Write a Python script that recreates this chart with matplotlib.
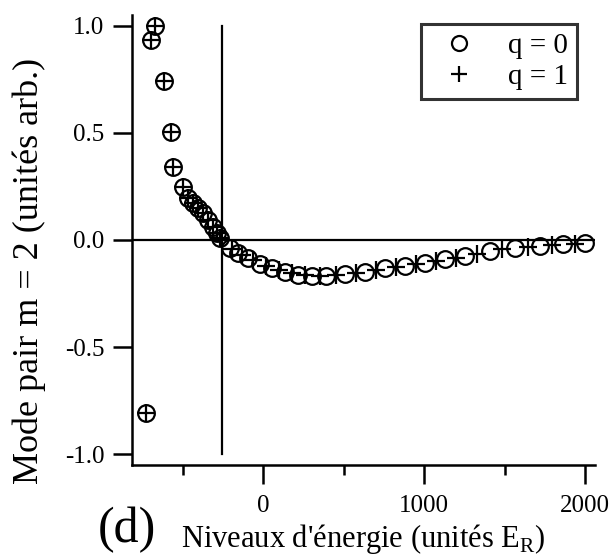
import matplotlib
matplotlib.use("Agg")
import matplotlib.pyplot as plt
from matplotlib.ticker import FixedLocator

plt.rcParams['font.family'] = ['Liberation Serif', 'DejaVu Serif']
plt.rcParams['mathtext.fontset'] = 'custom'
plt.rcParams['mathtext.rm'] = 'Liberation Serif'

# levels shared by both q values (left branch)
shared_x = [-727, -696, -671, -615, -575, -559, -497, -466, -435, -404, -373, -342, -311, -286, -267]
shared_y = [-0.81, 0.935, 1.0, 0.74, 0.505, 0.34, 0.245, 0.196, 0.173, 0.150, 0.126, 0.093, 0.061, 0.033, 0.009]

# q = 0 (circles), right branch
q0_x = [-205, -155, -93, -19, 56, 137, 217, 304, 391, 509, 634, 758, 882, 1006, 1130, 1255, 1410, 1565, 1720, 1863, 2000]
q0_y = [-0.037, -0.061, -0.084, -0.112, -0.131, -0.150, -0.164, -0.168, -0.168, -0.159, -0.150, -0.131,
        -0.121, -0.107, -0.089, -0.075, -0.051, -0.037, -0.028, -0.019, -0.014]

# q = 1 (crosses), right branch
q1_x = [-193, -130, -62, 19, 99, 180, 261, 354, 453, 578, 702, 826, 950, 1075, 1199, 1329, 1484, 1646, 1795, 1938]
q1_y = [-0.042, -0.070, -0.093, -0.121, -0.140, -0.154, -0.164, -0.168, -0.164, -0.154, -0.140, -0.126,
        -0.112, -0.098, -0.084, -0.065, -0.042, -0.033, -0.023, -0.019]

y_ticks = [-1.0, -0.5, 0.0, 0.5, 1.0]
y_labels = ['-1.0', '-0.5', '0.0', '0.5', '1.0']
x_major = [0, 1000, 2000]
x_minor = [-500, 500, 1500]
x_cut = -255

fig = plt.figure(figsize=(6.14, 5.58), dpi=100)
ax = fig.add_axes([0.215, 0.167, 0.754, 0.806])

ax.plot(shared_x + q0_x, shared_y + q0_y, 'o', mfc='none', mec='black', ms=12, mew=1.6, label='q = 0', zorder=3)
ax.plot(shared_x + q1_x, shared_y + q1_y, '+', color='black', ms=13, mew=1.6, label='q = 1', zorder=3)

ax.axhline(0, color='black', lw=1.6, zorder=2)
ax.plot([x_cut, x_cut], [-1.0, 1.0], color='black', lw=1.6, zorder=2)

ax.set_xlim(-815, 2062)
ax.set_ylim(-1.05, 1.05)

for s in ['top', 'right']:
  ax.spines[s].set_visible(False)
for s in ['left', 'bottom']:
  ax.spines[s].set_linewidth(1.8)

ax.set_yticks(y_ticks)
ax.set_yticklabels(y_labels)
ax.set_xticks(x_major)
ax.set_xticklabels([str(v) for v in x_major])
ax.xaxis.set_minor_locator(FixedLocator(x_minor))
ax.tick_params(axis='both', which='major', direction='out', length=14, width=1.8, labelsize=18, pad=6)
ax.tick_params(axis='x', which='major', pad=8)
ax.tick_params(axis='x', which='minor', direction='out', length=7, width=1.8)

ax.set_ylabel('Mode pair m = 2 (unités arb.)', fontsize=26)
ax.yaxis.set_label_coords(-0.185, 0.43)
ax.set_xlabel("Niveaux d'énergie (unités E$_\\mathregular{R}$)", fontsize=22, labelpad=3)

leg = ax.legend(loc='upper right', bbox_to_anchor=(0.993, 1.012), fontsize=21, frameon=True,
                fancybox=False, edgecolor='black', handlelength=2.0, handletextpad=0.7,
                borderpad=0.3, labelspacing=0.15, markerscale=0.9)
leg.get_frame().set_linewidth(2.2)

fig.text(0.16, 0.05, '(d)', fontsize=36, ha='left', va='center')

fig.savefig('out.png', dpi=100)
